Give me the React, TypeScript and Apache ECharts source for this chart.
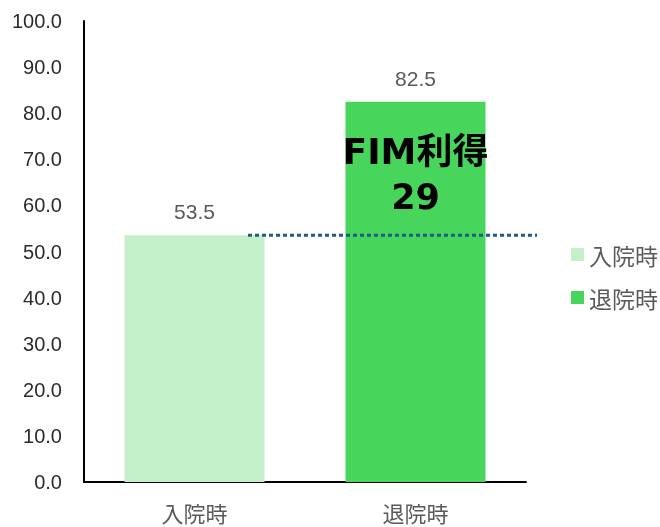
import React, { useEffect, useRef } from "react";
import * as echarts from "echarts";

const categories = ["入院時", "退院時"];
const seriesNames = ["入院時", "退院時"];
const admissionValues = [53.5, null];
const dischargeValues = [null, 82.5];
const yMin = 0;
const yMax = 100;
const yInterval = 10;
const annotationTitle = "FIM利得";
const colors = ["#c3f0c9", "#47d55c"];

export default function App() {
  const ref = useRef<HTMLDivElement>(null);
  useEffect(() => {
    const chart = echarts.init(ref.current!, null, { renderer: "svg" });
    const labelStyle = {
      show: true,
      position: "top",
      distance: 13,
      color: "#595959",
      fontSize: 21,
      fontFamily: "Liberation Sans, Arial, sans-serif",
      formatter: (p: any) => Number(p.value).toFixed(1),
    };
    chart.setOption({
      animation: false,
      grid: { left: 84, right: 134, top: 21, bottom: 45, containLabel: false },
      legend: {
        orient: "vertical",
        left: 566,
        top: 238,
        itemWidth: 13,
        itemHeight: 13,
        itemGap: 20,
        icon: "rect",
        data: seriesNames,
        textStyle: { color: "#595959", fontSize: 23, fontFamily: "Noto Sans CJK JP" },
      },
      xAxis: {
        type: "category",
        data: categories,
        axisLine: { show: true, lineStyle: { color: "#000", width: 2 } },
        axisTick: { show: false },
        axisLabel: { color: "#595959", fontSize: 22, margin: 19, fontFamily: "Noto Sans CJK JP" },
      },
      yAxis: {
        type: "value",
        min: yMin,
        max: yMax,
        interval: yInterval,
        axisLine: { show: true, lineStyle: { color: "#000", width: 2 } },
        axisTick: { show: false },
        splitLine: { show: false },
        axisLabel: {
          color: "#2b2b2b",
          fontSize: 20,
          margin: 22,
          fontFamily: "Liberation Sans, Arial, sans-serif",
          formatter: (v: number) => v.toFixed(1),
        },
      },
      series: [
        {
          name: seriesNames[0],
          type: "bar",
          stack: "s",
          barWidth: 140,
          data: admissionValues,
          itemStyle: { color: colors[0] },
          label: labelStyle,
        },
        {
          name: seriesNames[1],
          type: "bar",
          stack: "s",
          barWidth: 140,
          data: dischargeValues,
          itemStyle: { color: colors[1] },
          label: labelStyle,
        },
      ],
    });

    const admission = admissionValues[0] as number;
    const discharge = dischargeValues[1] as number;
    const gain = discharge - admission;
    const yLine = chart.convertToPixel({ yAxisIndex: 0 }, admission) as number;
    const x0 = chart.convertToPixel({ xAxisIndex: 0 }, categories[0]) as number;
    const x1 = chart.convertToPixel({ xAxisIndex: 0 }, categories[1]) as number;
    const band = x1 - x0;
    const yText1 = chart.convertToPixel({ yAxisIndex: 0 }, 71.6) as number;
    const yText2 = chart.convertToPixel({ yAxisIndex: 0 }, 61.9) as number;
    const textFont = "DejaVu Sans, Noto Sans CJK JP, sans-serif";

    chart.setOption({
      graphic: [
        {
          type: "line",
          z: 100,
          shape: { x1: x0 + band * 0.242, y1: yLine, x2: x1 + band * 0.55, y2: yLine },
          style: { stroke: "#1e5c86", lineWidth: 3, lineDash: [4, 3] },
        },
        {
          type: "text",
          z: 100,
          x: x1,
          y: yText1,
          style: {
            text: annotationTitle,
            align: "center",
            verticalAlign: "middle",
            fontSize: 36,
            fontWeight: "bold",
            fontFamily: textFont,
            fill: "#000",
          },
        },
        {
          type: "text",
          z: 100,
          x: x1,
          y: yText2,
          style: {
            text: String(gain),
            align: "center",
            verticalAlign: "middle",
            fontSize: 35,
            fontWeight: "bold",
            fontFamily: textFont,
            fill: "#000",
          },
        },
      ],
    });
    return () => chart.dispose();
  }, []);
  return (
    <div
      ref={ref}
      style={{ position: "fixed", left: 0, top: 0, width: 660, height: 527 }}
    />
  );
}
